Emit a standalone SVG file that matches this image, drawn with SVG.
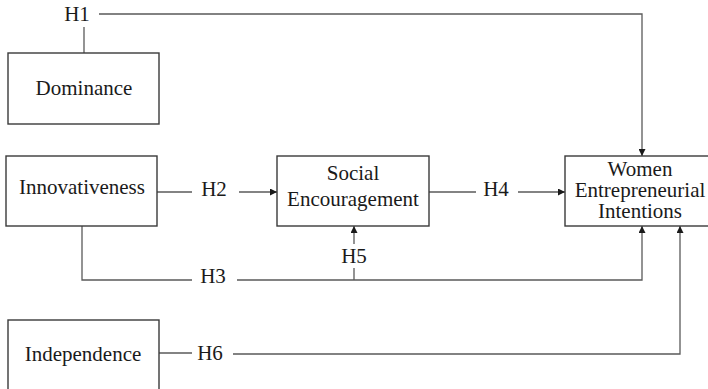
<svg xmlns="http://www.w3.org/2000/svg" width="708" height="389" viewBox="0 0 708 389">
<style>
.box{fill:#fff;stroke:#3a3a3a;stroke-width:1.4}
.t{font-family:"Liberation Serif","Times New Roman",serif;font-size:21px;fill:#1a1a1a;text-anchor:middle}
.c{fill:none;stroke:#5a5a5a;stroke-width:1.3}
</style>
<defs>
<marker id="ah" viewBox="0 0 10 10" refX="10" refY="5" markerWidth="7" markerHeight="7" markerUnits="userSpaceOnUse" orient="auto">
<path d="M0,0 L10,5 L0,10 z" fill="#1a1a1a"/>
</marker>
</defs>
<rect width="708" height="389" fill="#fff"/>
<g id="connectors">
<path class="c" d="M84,53 V27"/>
<path class="c" d="M99,14 H642 V156" marker-end="url(#ah)"/>
<path class="c" d="M157,192 H192"/>
<path class="c" d="M239,192 H277" marker-end="url(#ah)"/>
<path class="c" d="M429,192 H476"/>
<path class="c" d="M518,192 H565" marker-end="url(#ah)"/>
<path class="c" d="M82,226 V280 H192"/>
<path class="c" d="M237,280 H642 V226" marker-end="url(#ah)"/>
<path class="c" d="M354,280 V268"/>
<path class="c" d="M354,244 V226" marker-end="url(#ah)"/>
<path class="c" d="M159,353 H192"/>
<path class="c" d="M233,354 H680 V226" marker-end="url(#ah)"/>
<text class="t" x="77" y="21">H1</text>
<text class="t" x="214" y="196">H2</text>
<text class="t" x="213" y="283">H3</text>
<text class="t" x="496" y="196">H4</text>
<text class="t" x="354" y="263">H5</text>
<text class="t" x="210" y="360">H6</text>
</g>
<g id="dominance">
<rect class="box" x="8" y="53" width="151" height="71"/>
<text class="t" x="84" y="95">Dominance</text>
</g>
<g id="innovativeness">
<rect class="box" x="6" y="156" width="151" height="70"/>
<text class="t" x="82" y="194">Innovativeness</text>
</g>
<g id="social">
<rect class="box" x="277" y="156" width="152" height="70"/>
<text class="t" x="353" y="180">Social</text>
<text class="t" x="353" y="206">Encouragement</text>
</g>
<g id="women">
<rect class="box" x="565" y="156" width="150" height="70"/>
<text class="t" x="640" y="176">Women</text>
<text class="t" x="640" y="197">Entrepreneurial</text>
<text class="t" x="640" y="218">Intentions</text>
</g>
<g id="independence">
<rect class="box" x="8" y="320" width="151" height="75"/>
<text class="t" x="83" y="361">Independence</text>
</g>
</svg>
